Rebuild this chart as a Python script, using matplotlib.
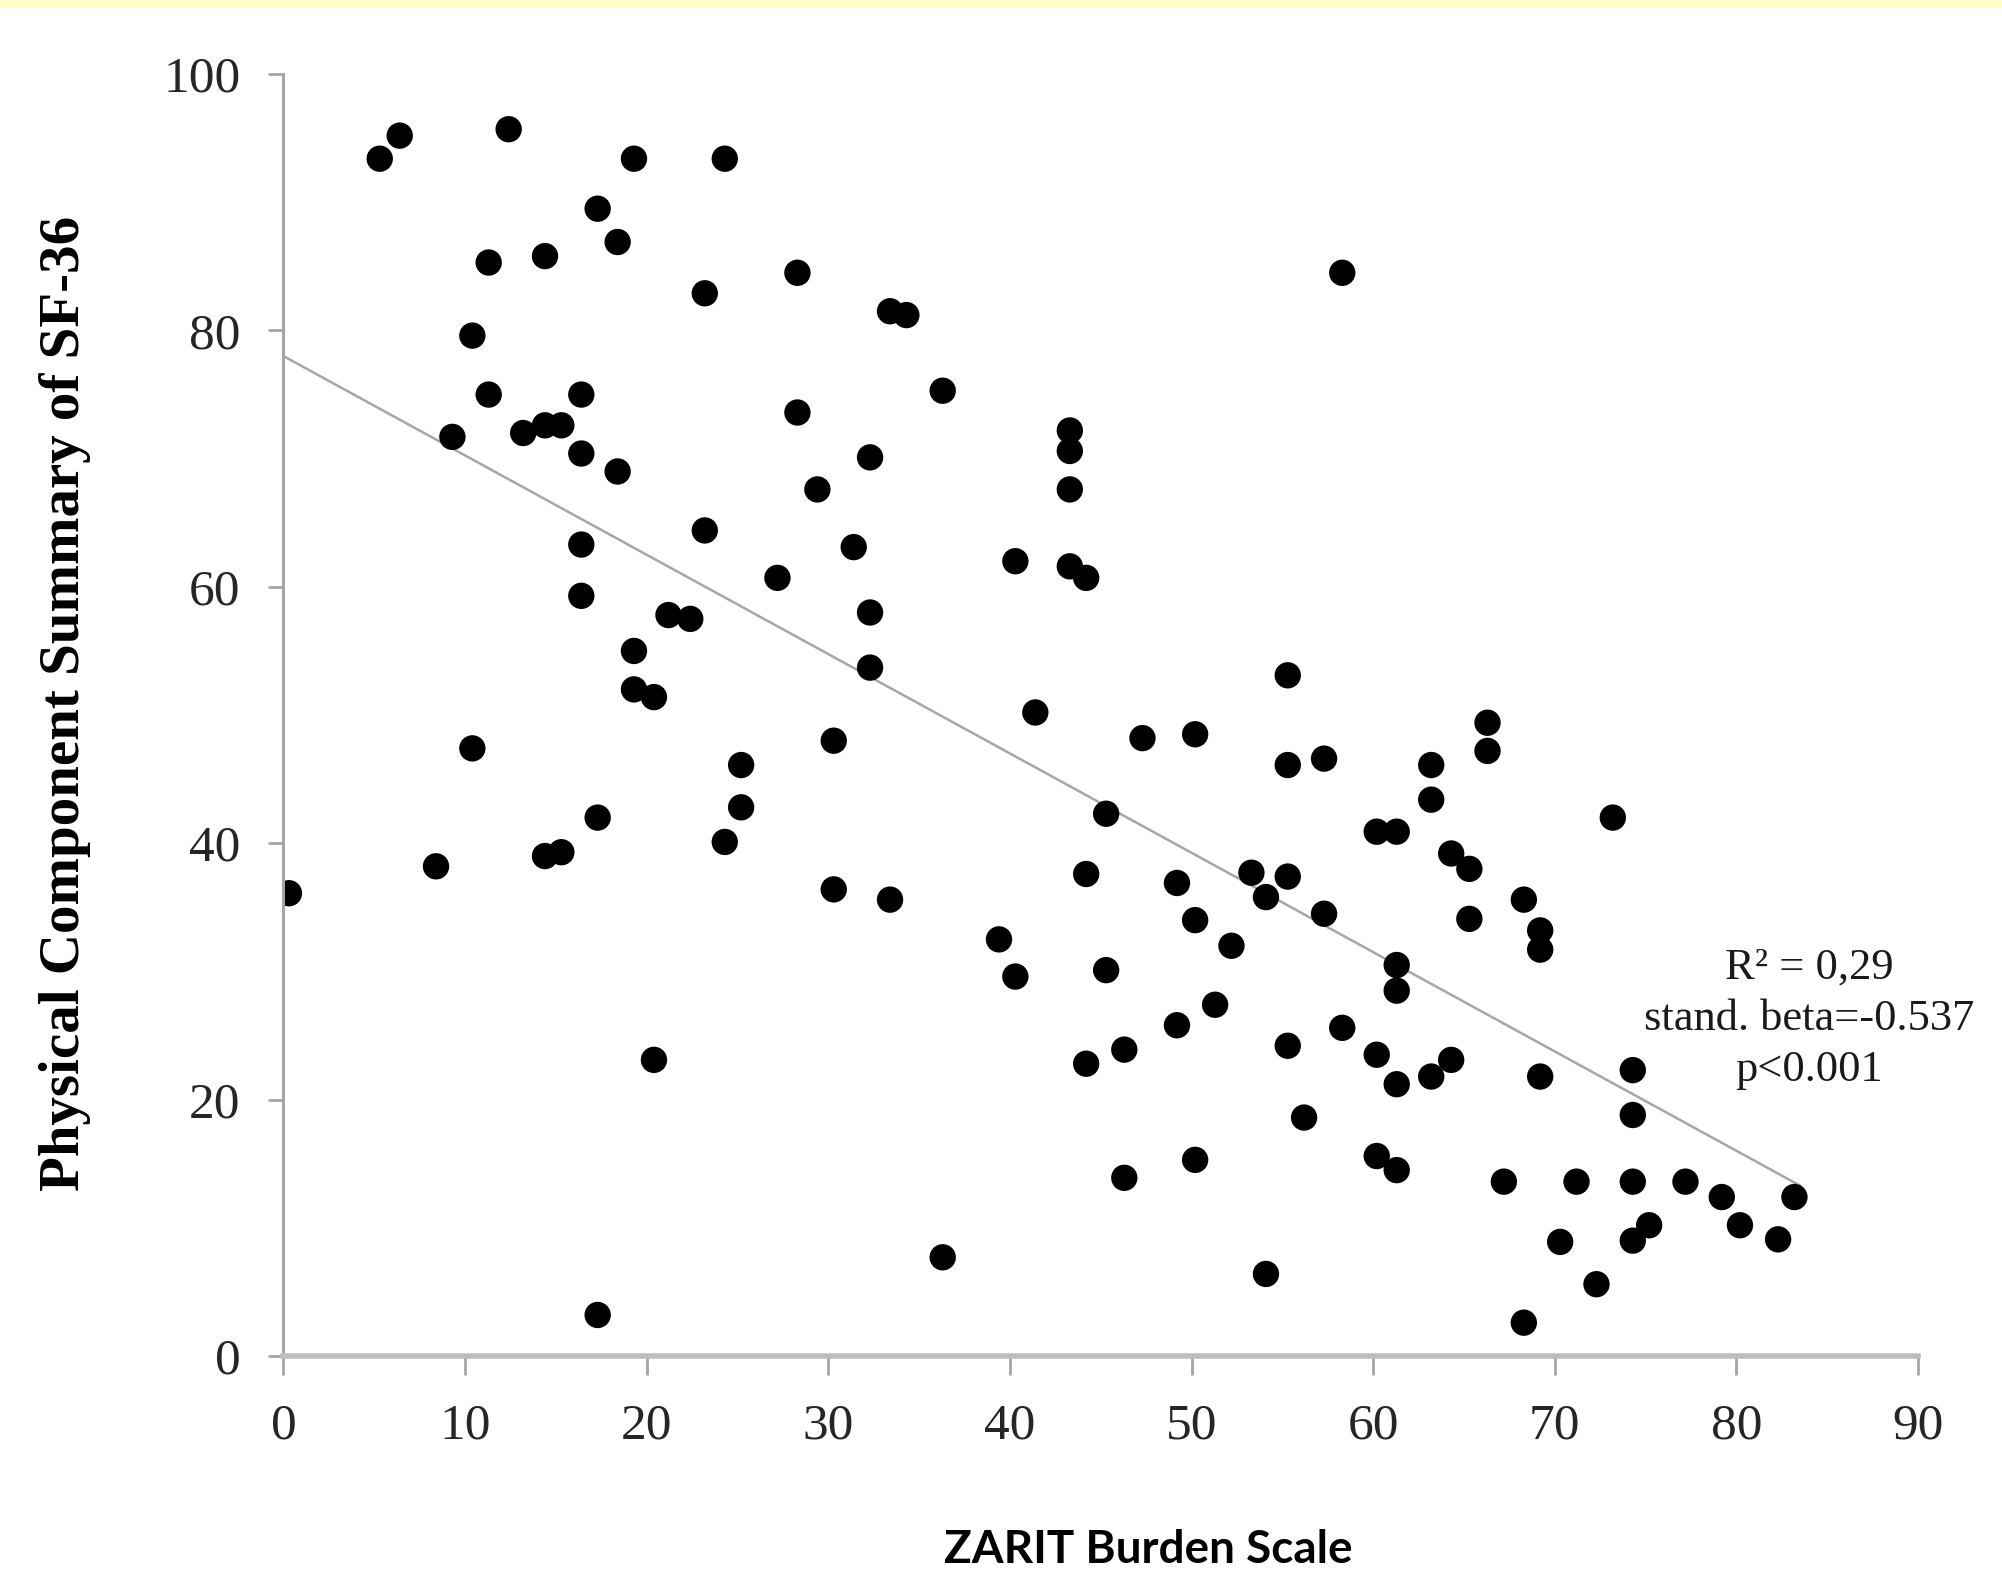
import numpy as np
import matplotlib.pyplot as plt
from matplotlib.patches import Rectangle

# ZARIT burden score (x) vs SF-36 physical component summary (y)
zarit = [0.3, 5.3, 6.4, 12.4, 8.4, 9.3, 10.4, 10.4, 11.3, 11.3,
         13.2, 14.4, 15.3, 14.4, 14.4, 15.3, 16.4, 16.4, 16.4, 16.4,
         17.3, 17.3, 17.3, 18.4, 18.4, 19.3, 19.3, 19.3, 20.4, 20.4,
         21.2, 22.4, 23.2, 23.2, 24.3, 24.3, 25.2, 25.2, 27.2, 28.3,
         28.3, 29.4, 30.3, 30.3, 31.4, 32.3, 32.3, 32.3, 33.4, 34.3,
         33.4, 36.3, 36.3, 39.4, 40.3, 40.3, 41.4, 43.3, 43.3, 43.3,
         43.3, 44.2, 44.2, 44.2, 45.3, 45.3, 46.3, 46.3, 47.3, 49.2,
         49.2, 50.2, 50.2, 50.2, 51.3, 52.2, 53.3, 54.1, 54.1, 55.3,
         55.3, 55.3, 55.3, 56.2, 57.3, 57.3, 58.3, 58.3, 60.2, 61.3,
         61.3, 61.3, 61.3, 60.2, 60.2, 61.3, 63.2, 63.2, 63.2, 64.3,
         65.3, 65.3, 64.3, 66.3, 66.3, 67.2, 68.3, 68.3, 69.2, 69.2,
         69.2, 70.3, 71.2, 72.3, 73.2, 74.3, 74.3, 74.3, 74.3, 75.2,
         77.2, 79.2, 80.2, 82.3, 83.2]
pcs = [36.1, 93.4, 95.2, 95.7, 38.2, 71.7, 79.6, 47.4, 85.3, 75.0,
       72.0, 72.6, 72.6, 85.8, 39.0, 39.3, 75.0, 70.4, 63.3, 59.3,
       89.5, 42.0, 3.2, 86.9, 69.0, 93.4, 55.0, 52.0, 51.4, 23.1,
       57.8, 57.5, 82.9, 64.4, 93.4, 40.1, 46.1, 42.8, 60.7, 84.5,
       73.6, 67.6, 48.0, 36.4, 63.1, 70.1, 58.0, 53.7, 81.5, 81.2,
       35.6, 75.3, 7.7, 32.5, 62.0, 29.6, 50.2, 72.2, 70.6, 67.6,
       61.6, 60.7, 37.6, 22.8, 42.3, 30.1, 23.9, 13.9, 48.2, 36.9,
       25.8, 48.5, 34.0, 15.3, 27.4, 32.0, 37.7, 35.8, 6.4, 53.1,
       46.1, 37.4, 24.2, 18.6, 46.6, 34.5, 84.5, 25.6, 40.9, 40.9,
       30.5, 28.5, 21.2, 23.5, 15.6, 14.5, 46.1, 43.4, 21.8, 39.2,
       38.0, 34.1, 23.1, 49.4, 47.2, 13.6, 35.6, 2.6, 33.2, 31.7,
       21.8, 8.9, 13.6, 5.6, 42.0, 22.3, 18.8, 13.6, 9.0, 10.2,
       13.6, 12.4, 10.2, 9.1, 12.4]

# linear trend line end points
trend_x = [0, 83.5]
trend_y = [78.0, 13.3]

x_ticks = list(range(0, 91, 10))
y_ticks = list(range(0, 101, 20))
stats_text = "R² = 0,29\nstand. beta=-0.537\np<0.001"

fig = plt.figure(figsize=(20.02, 15.83), dpi=100)
ax = fig.add_axes([0.1416, 0.1434, 0.8164, 0.8098])

# thin yellow band along the top edge
fig.patches.append(Rectangle((0, 0.995), 1, 0.005, transform=fig.transFigure,
                             facecolor="#ffffcc", edgecolor="none"))

ax.plot(trend_x, trend_y, color="#a6a6a6", lw=1.8, zorder=1)
ax.scatter(zarit, pcs, s=360, color="black", edgecolors="none", zorder=2)

ax.set_xlim(0, 90)
ax.set_ylim(0, 100)
ax.set_xticks(x_ticks)
ax.set_yticks(y_ticks)

for side in ["top", "right"]:
    ax.spines[side].set_visible(False)
ax.spines["left"].set_color("#a6a6a6")
ax.spines["bottom"].set_color("#bdbdbd")
ax.spines["left"].set_linewidth(2.2)
ax.spines["bottom"].set_linewidth(4)

ax.tick_params(axis="y", direction="out", length=11, width=2, color="#a6a6a6", pad=20)
ax.tick_params(axis="x", direction="out", length=14, width=2, color="#a6a6a6", pad=20)
for lab in ax.get_xticklabels() + ax.get_yticklabels():
    lab.set_fontfamily("Liberation Serif")
    lab.set_fontsize(37)
    lab.set_color("#262626")

ax.set_ylabel("Physical Component Summary of SF-36", family="Liberation Serif",
              fontsize=41, fontweight="bold", color="black")
ax.yaxis.set_label_coords(-0.118, 0.509)
ax.set_xlabel("ZARIT Burden Scale", family="Lato", fontsize=33,
              fontweight="bold", color="black")
ax.xaxis.set_label_coords(0.529, -0.135)

ax.text(84, 26.3, stats_text, family="Liberation Serif", fontsize=32,
        color="#1a1a1a", ha="center", va="center", linespacing=1.35)

fig.savefig("out.png", dpi=100)
